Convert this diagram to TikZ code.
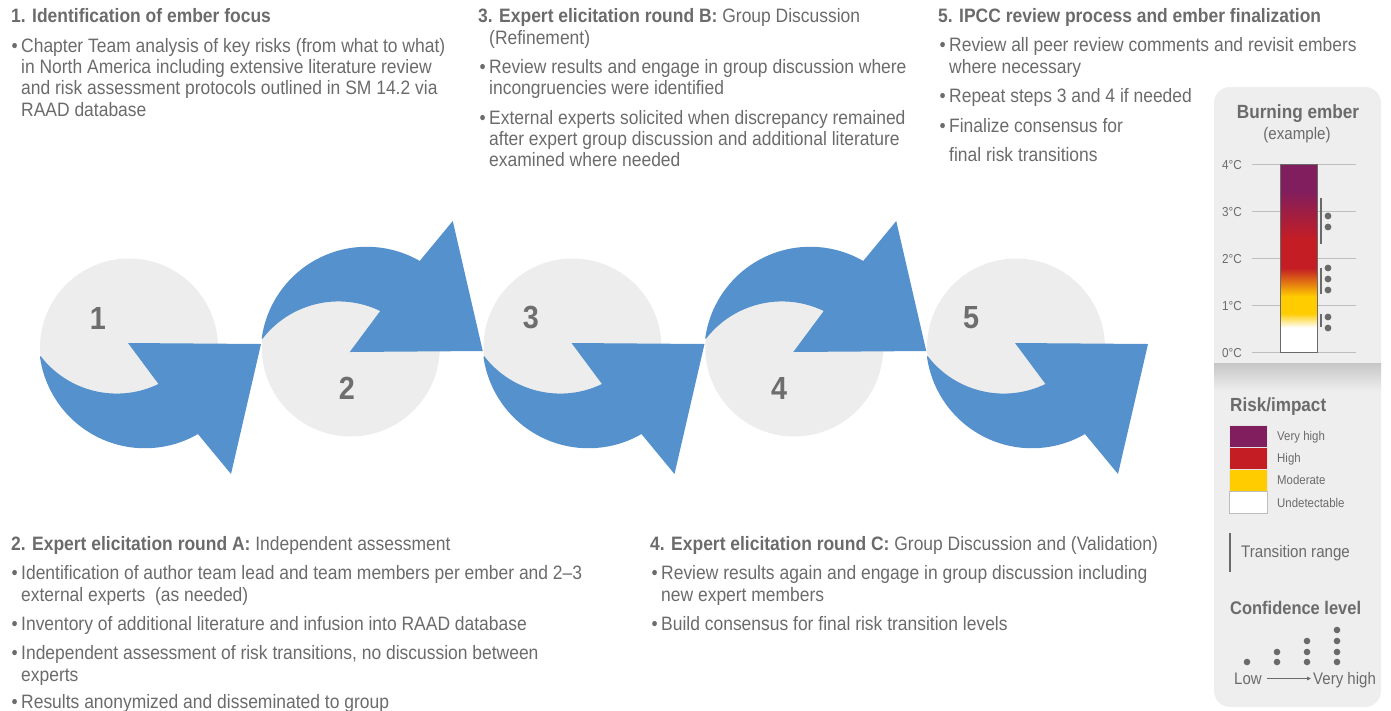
\documentclass[tikz,border=0pt]{standalone}
\usepackage{fontspec}
\setmainfont{Liberation Sans}[FakeStretch=0.9]
\usetikzlibrary{arrows.meta}

\definecolor{txtgray}{HTML}{6B6B6B}
\definecolor{numgray}{HTML}{6E6E6E}
\definecolor{stepblue}{HTML}{5591CC}
\definecolor{disc}{HTML}{EDEDED}
\definecolor{panel}{HTML}{EEEEEE}
\definecolor{bandtop}{HTML}{C6C6C6}
\definecolor{embPurple}{HTML}{801E5E}
\definecolor{embRed}{HTML}{C41E24}
\definecolor{embYellow}{HTML}{FFCC00}
\definecolor{gridgray}{HTML}{BEBEBE}
\definecolor{markgray}{HTML}{6A6A6A}

% ember colour ramp: 25bp = 0 degC (bar bottom), 75bp = 4 degC (bar top)
\pgfdeclareverticalshading{ember}{100bp}{%
  color(0bp)=(white); color(25bp)=(white); color(31.5bp)=(white);
  color(35.3bp)=(embYellow); color(39.8bp)=(embYellow);
  color(47.3bp)=(embRed); color(55bp)=(embRed);
  color(68bp)=(embPurple); color(75bp)=(embPurple); color(100bp)=(embPurple)}

\newcommand\bl{\llap{\textbullet\hspace{3.5pt}}}

\tikzset{
  txt/.style={anchor=base west, inner sep=0pt, text=txtgray,
    font=\fontsize{19.4}{22}\selectfont},
  num/.style={inner sep=0pt, text=numgray, font=\bfseries\fontsize{32}{34}\selectfont},
  small/.style={anchor=base west, inner sep=0pt, text=txtgray,
    font=\fontsize{12.7}{14}\selectfont},
  degree/.style={anchor=base west, inner sep=0pt, text=txtgray,
    font=\fontsize{13}{14}\selectfont},
  legtitle/.style={anchor=base west, inner sep=0pt, text=txtgray,
    font=\bfseries\fontsize{19}{22}\selectfont},
  swatch/.style={draw=white!80!gray, line width=0.6pt},
  dot/.style={fill=markgray},
  circarrow/.style={insert path={
    (-89,9.5) arc[start angle=172, end angle=60, radius=106]
    -- (102,126.5) -- (132,-3.5) -- (-1,-4.5) -- (29.5,36.5)
    arc[start angle=64.2, end angle=142.5, radius=96] -- cycle}}
}

\begin{document}
\begin{tikzpicture}[x=1pt, y=-1pt]
\useasboundingbox (0,0) rectangle (1391,710);

% ---------- step discs and circular arrows ----------
\foreach \k in {0,...,4}{
  \pgfmathsetmacro{\xo}{129+221.75*\k}
  \fill[disc] (\xo,347.5) circle[radius=89];
}
\foreach \k in {0,...,4}{
  \pgfmathsetmacro{\xo}{129+221.75*\k}
  \pgfmathtruncatemacro{\fl}{1-2*mod(\k,2)}
  \begin{scope}[shift={(\xo,347.5)}, yscale=\fl]
    \fill[stepblue, circarrow];
  \end{scope}
}
\node[num] (n1) at (98,318) {1};
\node[num] (n2) at (347,388) {2};
\node[num] (n3) at (531,318) {3};
\node[num] (n4) at (779,388) {4};
\node[num] (n5) at (971,318) {5};

% ---------- step 1 ----------
\node[txt] (s1t) at (11,22) {\textbf{1. Identification of ember focus}};
\node[txt] (s1a) at (21,52) {\bl Chapter Team analysis of key risks (from what to what)};
\node[txt] (s1b) at (21,73) {in North America including extensive literature review};
\node[txt] (s1c) at (21,94) {and risk assessment protocols outlined in SM 14.2 via};
\node[txt] (s1d) at (21,116) {RAAD database};

% ---------- step 3 ----------
\node[txt] (s3t) at (478,22) {\textbf{3. Expert elicitation round B:} Group Discussion};
\node[txt] (s3u) at (489,44) {(Refinement)};
\node[txt] (s3a) at (489,73) {\bl Review results and engage in group discussion where};
\node[txt] (s3b) at (489,94) {incongruencies were identified};
\node[txt] (s3c) at (489,124) {\bl External experts solicited when discrepancy remained};
\node[txt] (s3d) at (489,145) {after expert group discussion and additional literature};
\node[txt] (s3e) at (489,166) {examined where needed};

% ---------- step 5 ----------
\node[txt] (s5t) at (938,22) {\textbf{5. IPCC review process and ember finalization}};
\node[txt] (s5a) at (949,51) {\bl Review all peer review comments and revisit embers};
\node[txt] (s5b) at (949,73) {where necessary};
\node[txt] (s5c) at (949,102) {\bl Repeat steps 3 and 4 if needed};
\node[txt] (s5d) at (949,132) {\bl Finalize consensus for};
\node[txt] (s5e) at (949,161) {final risk transitions};

% ---------- step 2 ----------
\node[txt] (s2t) at (11,550) {\textbf{2. Expert elicitation round A:} Independent assessment};
\node[txt] (s2a) at (21,579) {\bl Identification of author team lead and team members per ember and 2–3};
\node[txt] (s2b) at (21,601) {external experts \ (as needed)};
\node[txt] (s2c) at (21,630) {\bl Inventory of additional literature and infusion into RAAD database};
\node[txt] (s2d) at (21,659) {\bl Independent assessment of risk transitions, no discussion between};
\node[txt] (s2e) at (21,681) {experts};
\node[txt] (s2f) at (21,708) {\bl Results anonymized and disseminated to group};

% ---------- step 4 ----------
\node[txt] (s4t) at (650,550) {\textbf{4. Expert elicitation round C:} Group Discussion and (Validation)};
\node[txt] (s4a) at (661,579) {\bl Review results again and engage in group discussion including};
\node[txt] (s4b) at (661,601) {new expert members};
\node[txt] (s4c) at (661,630) {\bl Build consensus for final risk transition levels};

% ---------- side panel ----------
\fill[panel, rounded corners=16pt] (1214,87) rectangle (1381,707);
\shade[top color=bandtop, bottom color=panel] (1214,363) rectangle (1381,391);

\node[inner sep=0pt, text=txtgray, font=\bfseries\fontsize{19.1}{22}\selectfont,
  anchor=base] (emb) at (1298,118) {Burning ember};
\node[inner sep=0pt, text=txtgray, font=\fontsize{16.8}{20}\selectfont,
  anchor=base] (ex) at (1297,139) {(example)};

\foreach \t in {0,...,4}{
  \draw[gridgray, line width=0.8pt] (1252,352-47*\t) -- (1356,352-47*\t);
  \node[degree] (deg\t) at (1222,357-47*\t) {\t°C};
}
\shade[shading=ember] (1280,164) rectangle (1317,352);
\draw[markgray, line width=0.8pt] (1280,164) rectangle (1317,352);

% transition ranges with confidence dots
\draw[markgray, line width=1.8pt] (1321,198) -- (1321,244);
\draw[markgray, line width=1.8pt] (1321,268) -- (1321,294);
\draw[markgray, line width=1.8pt] (1321,314) -- (1321,327);
\foreach \y in {216,227,268,279,290,317,328}
  \fill[dot] (1328,\y) circle[radius=3.4];

% risk legend
\node[legtitle] (risk) at (1230,411) {Risk/impact};
\fill[embPurple] (1229,425) rectangle (1267,447);
\fill[embRed] (1229,447) rectangle (1267,469);
\fill[embYellow] (1229,469) rectangle (1267,491);
\fill[white] (1229,491) rectangle (1267,513);
\draw[swatch] (1229,425) rectangle (1267,447);
\draw[swatch] (1229,447) rectangle (1267,469);
\draw[swatch] (1229,469) rectangle (1267,491);
\draw[draw=gridgray, line width=0.8pt] (1229,491) rectangle (1267,513);
\node[small] (lvh) at (1277,440.5) {Very high};
\node[small] (lh) at (1277,462.5) {High};
\node[small] (lm) at (1277,484.5) {Moderate};
\node[small] (lu) at (1277,507) {Undetectable};

\draw[markgray, line width=1.8pt] (1230,533) -- (1230,572);
\node[anchor=base west, inner sep=0pt, text=txtgray, font=\fontsize{16.8}{20}\selectfont]
  (tr) at (1241,557) {Transition range};

% confidence legend
\node[legtitle, font=\bfseries\fontsize{18.3}{22}\selectfont] (conf) at (1230,614) {Confidence level};
\fill[dot] (1247,662) circle[radius=3.3];
\foreach \y in {652,662} \fill[dot] (1277,\y) circle[radius=3.3];
\foreach \y in {641,652,662} \fill[dot] (1307,\y) circle[radius=3.3];
\foreach \y in {630,641,652,662} \fill[dot] (1337,\y) circle[radius=3.3];
\node[anchor=base, inner sep=0pt, text=txtgray, font=\fontsize{16.7}{20}\selectfont]
  (low) at (1248,684) {Low};
\node[anchor=base west, inner sep=0pt, text=txtgray, font=\fontsize{16.7}{20}\selectfont]
  (vhigh) at (1313,684) {Very high};
\draw[markgray, line width=0.8pt, -{Triangle[length=4pt, width=3.5pt]}]
  (1267,678.5) -- (1311,678.5);
\end{tikzpicture}
\end{document}
